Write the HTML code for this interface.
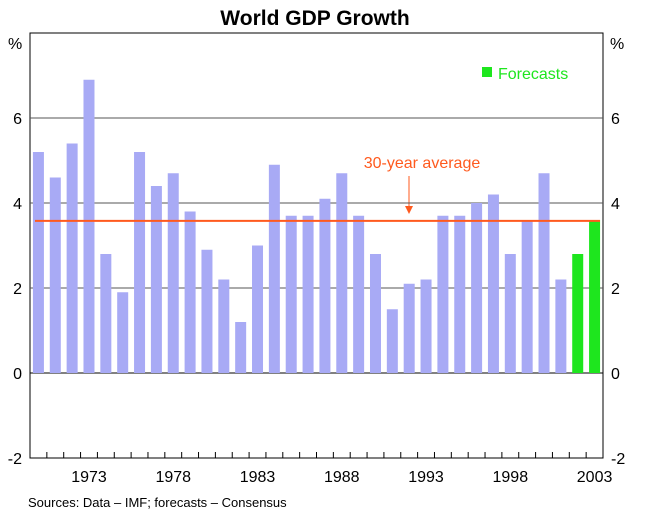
<!DOCTYPE html>
<html><head><meta charset="utf-8"><style>
body{margin:0;background:#fff}
svg text{font-family:"Liberation Sans",Arial,sans-serif}
</style></head><body>
<svg id="c" width="651" height="515" xmlns="http://www.w3.org/2000/svg">
<text x="315" y="25" text-anchor="middle" font-size="21" font-weight="bold">World GDP Growth</text>
<text x="8" y="49" font-size="16">%</text>
<text x="610" y="49" font-size="16">%</text>
<rect x="482" y="67" width="10" height="10" fill="#1ee61e"/>
<text x="498" y="79" font-size="16" fill="#1ee61e">Forecasts</text>
<text x="422" y="168" font-size="16" fill="#ff5a1e" text-anchor="middle">30-year average</text>
<line x1="409" y1="176" x2="409" y2="208" stroke="#ff5a1e" stroke-width="1"/>
<polygon points="405,206 413,206 409,214" fill="#ff5a1e"/>
<text x="28" y="507" font-size="13">Sources: Data – IMF; forecasts – Consensus</text>
<g id="g"></g>
</svg>
<script>
const years=[1970,1971,1972,1973,1974,1975,1976,1977,1978,1979,1980,1981,1982,1983,1984,1985,1986,1987,1988,1989,1990,1991,1992,1993,1994,1995,1996,1997,1998,1999,2000,2001,2002,2003];
const growth=[5.2,4.6,5.4,6.9,2.8,1.9,5.2,4.4,4.7,3.8,2.9,2.2,1.2,3.0,4.9,3.7,3.7,4.1,4.7,3.7,2.8,1.5,2.1,2.2,3.7,3.7,4.0,4.2,2.8,3.6,4.7,2.2,2.8,3.6];
const isForecast=[0,0,0,0,0,0,0,0,0,0,0,0,0,0,0,0,0,0,0,0,0,0,0,0,0,0,0,0,0,0,0,0,1,1];
const yTicks=[-2,0,2,4,6];
const xLabels=[1973,1978,1983,1988,1993,1998,2003];
const average=3.58;
const L=30,R=603,T=33,B=458,yMin=-2,yMax=8;
const NS="http://www.w3.org/2000/svg",g=document.getElementById('g');
const bw=(R-L)/years.length;
const y=v=>B-(v-yMin)/(yMax-yMin)*(B-T);
const xc=i=>L+bw*(i+0.5);
function mk(t,a){const e=document.createElementNS(NS,t);for(const k in a)e.setAttribute(k,a[k]);g.appendChild(e);return e;}
let e=mk('rect',{x:L,y:T,width:R-L,height:B-T,fill:'none',stroke:'#000'});


yTicks.forEach(v=>{
 if(v>yMin){let l=mk('line',{x1:L,x2:R,y1:y(v),y2:y(v),stroke:v===0?'#000':'#555','stroke-width':1});
 
 }
 let t1=mk('text',{x:L-8,y:y(v)+6,'text-anchor':'end','font-size':16});t1.textContent=v;
 
 
 let t2=mk('text',{x:R+8,y:y(v)+6,'font-size':16});t2.textContent=v;
 
 
});
growth.forEach((v,i)=>{
 let r=mk('rect',{x:xc(i)-5.5,width:11,y:Math.min(y(v),y(0)),height:Math.abs(y(v)-y(0)),fill:isForecast[i]?'#1ee61e':'#a8aaf5'});
 
 
 if(i>0){let tk=mk('line',{x1:L+bw*i,x2:L+bw*i,y1:B,y2:B-6,stroke:'#000'});
 
 }
});
xLabels.forEach(yr=>{
 const i=years.indexOf(yr);
 let t=mk('text',{x:xc(i),y:B+24,'text-anchor':'middle','font-size':16});t.textContent=yr;
 
 
});
e=mk('line',{x1:L+5,x2:R-3,y1:y(average),y2:y(average),stroke:'#ff5a1e','stroke-width':2});


</script>
</body></html>
